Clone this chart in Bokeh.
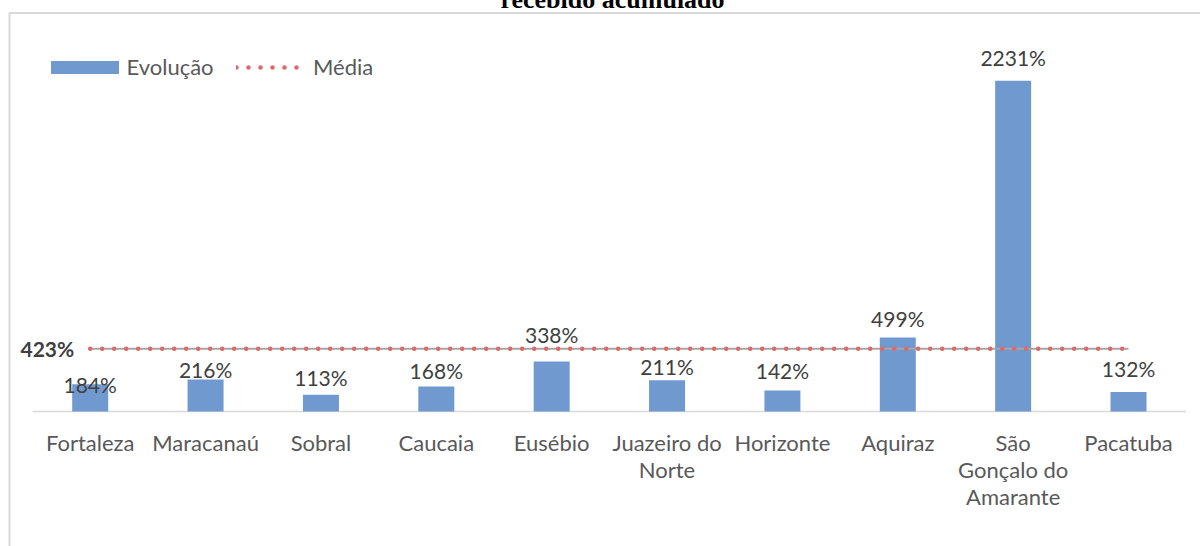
from bokeh.plotting import figure
from bokeh.models import Range1d, Legend, LegendItem, Label
from bokeh.core.properties import value
from bokeh.embed import file_html
from bokeh.resources import INLINE

# ---- data ----
categories = ["Fortaleza", "Maracanaú", "Sobral", "Caucaia", "Eusébio",
              "Juazeiro do\nNorte", "Horizonte", "Aquiraz",
              "São\nGonçalo do\nAmarante", "Pacatuba"]
evolucao = [184, 216, 113, 168, 338, 211, 142, 499, 2231, 132]
media = [423, 423, 423, 423, 423, 423, 423, 423, 423, 423]
evolucao_labels = [f"{v}%" for v in evolucao]
media_label = "423%"
title_text = "recebido acumulado"

# category slot centres on a numeric scale (slot i -> i + 0.5)
xpos = [i + 0.5 for i in range(len(categories))]

# ---- style / layout ----
OFF = 8                      # canvas sits 8px up/left of the window
W, H = 1200 + OFF, 546 + OFF
CAT_W = 115.37               # px per category
FIRST_C = 89.7               # window px of first category centre
BASE_PX = 411.0              # window px of value 0
PX_PER_UNIT = 0.1482
TXT_FIX = 9                  # text baseline correction (px)

X0 = 0.5 - (FIRST_C + OFF) / CAT_W
X1 = X0 + W / CAT_W
Y1 = (BASE_PX + OFF) / PX_PER_UNIT
Y0 = -(546 - BASE_PX) / PX_PER_UNIT

def px_x(px):
    return X0 + (px + OFF) / CAT_W

def px_y(py):
    return Y1 - (py + OFF) / PX_PER_UNIT

label_gaps = [-9, 1, 8, 7, 18, 5, 11, 10, 14, 14]
label_y_offsets = [-g - TXT_FIX for g in label_gaps]

p = figure(width=W, height=H, x_range=Range1d(X0, X1), y_range=Range1d(Y0, Y1),
           output_backend="svg", toolbar_location=None,
           x_axis_location=None, y_axis_location=None,
           min_border=0, min_border_left=0, min_border_right=0,
           min_border_top=0, min_border_bottom=0)
p.styles = {"margin": "-8px"}
p.outline_line_color = None
p.xgrid.visible = False
p.ygrid.visible = False
p.background_fill_color = "white"
p.border_fill_color = "white"

BLUE = "#7099cf"

# chart border (decoration)
p.line(x=[px_x(9), px_x(9), px_x(1220)], y=[px_y(570), px_y(12.5), px_y(12.5)],
       line_color="#d9d9d9", line_width=2)

# category axis line
p.line(x=[0, len(categories)], y=[0, 0], line_color="#d9d9d9", line_width=1.3)

bars = p.vbar(x=xpos, top=evolucao, bottom=0, width=0.312,
              fill_color=BLUE, line_color=None)

p.line(x=xpos, y=media, line_color="#a6a6a6", line_width=2)
dots = p.line(x=xpos, y=media, line_color="#dc6a6a", line_width=4.6,
              line_dash="0 12", line_cap="round")

# data labels
p.text(x=xpos, y=evolucao, text=evolucao_labels,
       y_offset=label_y_offsets, text_align="center",
       text_baseline="alphabetic", text_font=value("Lato"),
       text_font_size="21px", text_color="#404040")

p.text(x=[xpos[0]], y=[media[0]], text=[media_label], x_offset=-16,
       y_offset=9 - TXT_FIX, text_align="right", text_baseline="alphabetic",
       text_font=value("Lato"), text_font_style="bold",
       text_font_size="21px", text_color="#404040")

# category labels
p.text(x=xpos, y=[0] * len(categories), text=categories,
       y_offset=17, text_align="center", text_baseline="top",
       text_font=value("Lato"), text_font_size="22px",
       text_line_height=1.0, text_color="#595959")

# title (cut at top)
p.add_layout(Label(x=612 + OFF, y=H - (7 + OFF) + TXT_FIX - 1,
                   x_units="screen", y_units="screen",
                   text=title_text, text_font="Liberation Serif",
                   text_font_style="bold", text_font_size="26px",
                   text_align="center", text_baseline="alphabetic",
                   text_color="black"))

# legends
leg_common = dict(orientation="horizontal", glyph_height=16, label_height=16,
                  padding=0, margin=0, spacing=0, border_line_color=None,
                  background_fill_alpha=0, label_text_font="Lato",
                  label_text_font_size="22px", label_text_color="#595959")
leg1 = Legend(items=[LegendItem(label="Evolução", renderers=[bars])],
              location=(41.5 + OFF, 546 - 80), glyph_width=85,
              label_standoff=0, **leg_common)
leg2 = Legend(items=[LegendItem(label="Média", renderers=[dots])],
              location=(236 + OFF, 546 - 80), glyph_width=66,
              label_standoff=11, **leg_common)
p.add_layout(leg1, "center")
p.add_layout(leg2, "center")

open("out.html", "w").write(file_html(p, INLINE))
